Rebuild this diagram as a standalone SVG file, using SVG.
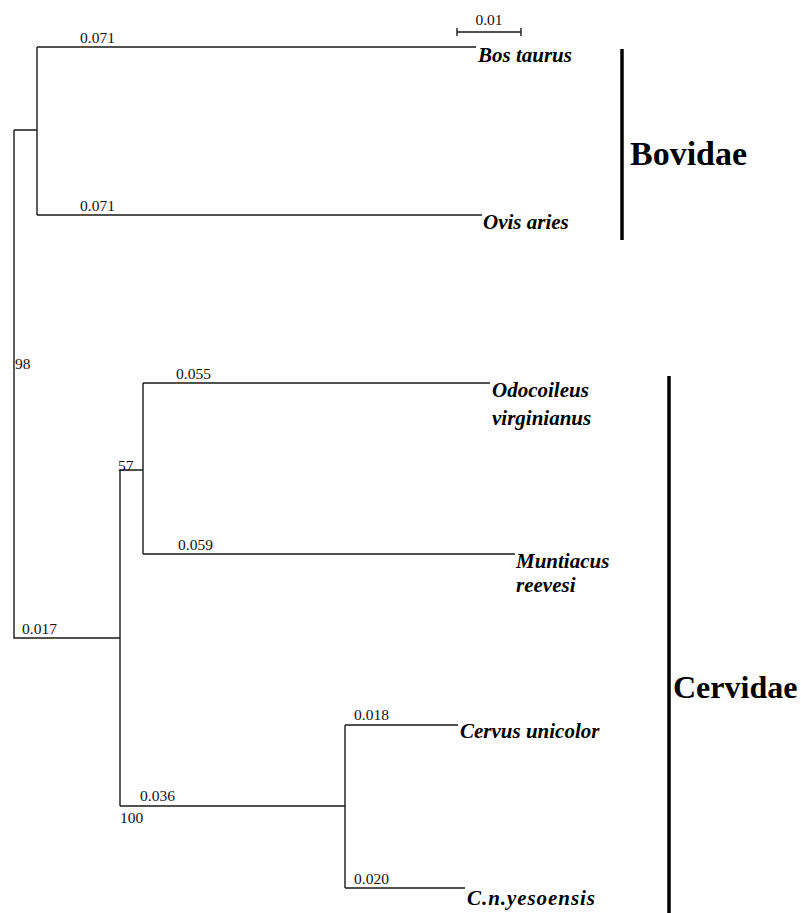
<svg xmlns="http://www.w3.org/2000/svg" width="801" height="913" viewBox="0 0 801 913">
<style>
.br{stroke:#1a1a1a;stroke-width:1.4;fill:none}
.bar{stroke:#000;stroke-width:3.5;fill:none}
.num{font-family:"Liberation Serif",serif;font-size:15.5px;fill:#111}
.sp{font-family:"Liberation Serif",serif;font-size:21px;font-weight:bold;font-style:italic;fill:#000}
.fam{font-family:"Liberation Serif",serif;font-weight:bold;fill:#000}
</style>
<rect width="801" height="913" fill="#fff"/>
<g id="connectors">
<path class="br" d="M14,130 H37 M37,47 V215 M37,47 H476 M37,215 H482"/>
<path class="br" d="M14,130 V638 H120 M120,470 V806 M120,470 H143 M143,383 V554 M143,383 H490 M143,554 H515"/>
<path class="br" d="M120,806 H345 M345,725 V888 M345,725 H458 M345,888 H465"/>
</g>
<g id="scale">
<path class="br" d="M457,32 H521 M457,28 V36 M521,28 V36"/>
<text class="num" x="489" y="25" text-anchor="middle" font-size="16">0.01</text>
</g>
<g id="bos"><text class="num" x="80" y="43">0.071</text><text class="sp" x="478" y="62">Bos taurus</text></g>
<g id="ovis"><text class="num" x="80" y="211">0.071</text><text class="sp" x="483" y="229">Ovis aries</text></g>
<g id="root"><text class="num" x="15" y="369" font-size="16.5">98</text><text class="num" x="22" y="634">0.017</text></g>
<g id="node57"><text class="num" x="118" y="471" font-size="16.5">57</text></g>
<g id="odocoileus"><text class="num" x="176" y="379">0.055</text><text class="sp" x="492" y="397">Odocoileus</text><text class="sp" x="492" y="425">virginianus</text></g>
<g id="muntiacus"><text class="num" x="178" y="550">0.059</text><text class="sp" x="516" y="568">Muntiacus</text><text class="sp" x="516" y="592">reevesi</text></g>
<g id="node100"><text class="num" x="140" y="801">0.036</text><text class="num" x="120" y="823">100</text></g>
<g id="cervus"><text class="num" x="354" y="720">0.018</text><text class="sp" x="460" y="738">Cervus unicolor</text></g>
<g id="yesoensis"><text class="num" x="354" y="884">0.020</text><text class="sp" x="467" y="905" textLength="128" lengthAdjust="spacing">C.n.yesoensis</text></g>
<g id="bovidae"><path class="bar" d="M622,49 V240"/><text class="fam" x="630" y="165" font-size="34">Bovidae</text></g>
<g id="cervidae"><path class="bar" d="M669,376 V913"/><text class="fam" x="673" y="698" font-size="32">Cervidae</text></g>
</svg>
